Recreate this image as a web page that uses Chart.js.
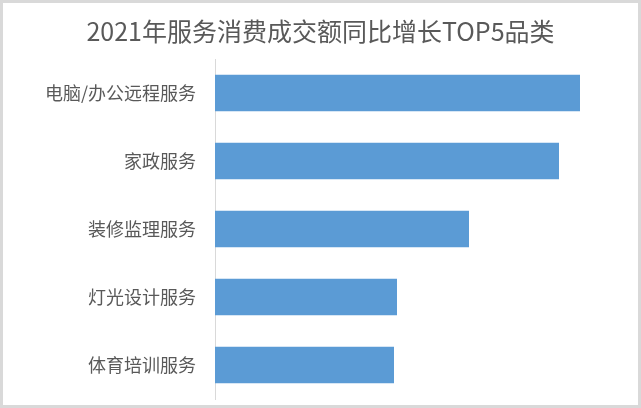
<!DOCTYPE html>
<html>
<head>
<meta charset="utf-8">
<script src="https://cdn.jsdelivr.net/npm/chart.js@4"></script>
<style>
html,body{margin:0;padding:0;background:#fff;}
canvas{display:block;}
</style>
</head>
<body>
<canvas id="c" width="641" height="408"></canvas>
<script>
const titleText = '2021年服务消费成交额同比增长TOP5品类';
const categories = ['电脑/办公远程服务', '家政服务', '装修监理服务', '灯光设计服务', '体育培训服务'];
const values = [365, 344, 254, 182, 179];
const axisMax = 426;

const frame = {
  id: 'frame',
  beforeDraw(chart) {
    const ctx = chart.ctx;
    ctx.save();
    ctx.fillStyle = '#ffffff';
    ctx.fillRect(0, 0, chart.width, chart.height);
    ctx.restore();
  },
  afterDraw(chart) {
    const ctx = chart.ctx;
    ctx.save();
    ctx.strokeStyle = '#d9d9d9';
    ctx.lineWidth = 3;
    ctx.strokeRect(1.5, 1.5, chart.width - 3, chart.height - 3);
    ctx.restore();
  }
};

new Chart(document.getElementById('c'), {
  type: 'bar',
  data: {
    labels: categories,
    datasets: [{
      data: values,
      backgroundColor: '#5b9bd5',
      borderWidth: 0,
      barPercentage: 0.9,
      categoryPercentage: 0.6
    }]
  },
  options: {
    indexAxis: 'y',
    responsive: false,
    animation: false,
    devicePixelRatio: 1,
    layout: { padding: { left: 0, right: 0, top: 0, bottom: 9 } },
    plugins: {
      legend: { display: false },
      tooltip: { enabled: false },
      title: {
        display: true,
        text: titleText,
        color: '#595959',
        font: { family: '"Noto Sans CJK SC", "Noto Sans", sans-serif', size: 25, weight: 'normal' },
        lineHeight: 1.2,
        padding: { top: 16, bottom: 13 }
      }
    },
    scales: {
      x: { display: false, min: 0, max: axisMax },
      y: {
        grid: { display: false, drawTicks: false },
        border: { display: true, color: '#d9d9d9', width: 1 },
        ticks: {
          color: '#595959',
          padding: 19,
          font: { family: '"Noto Sans CJK SC", "Noto Sans", sans-serif', size: 18 }
        },
        afterFit(scale) {
          scale.width = 215;
          scale.paddingTop = 0;
          scale.paddingBottom = 0;
        }
      }
    }
  },
  plugins: [frame]
});
</script>
</body>
</html>
